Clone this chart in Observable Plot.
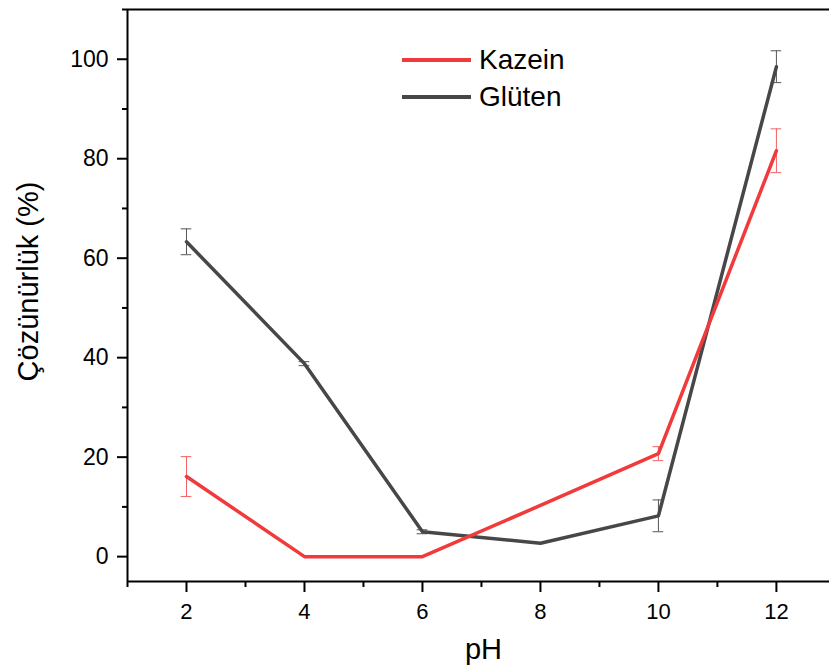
<!DOCTYPE html>
<html>
<head>
<meta charset="utf-8">
<script src="https://cdn.jsdelivr.net/npm/d3@7"></script>
<script src="https://cdn.jsdelivr.net/npm/@observablehq/plot@0.6"></script>
<style>
  html, body { margin: 0; padding: 0; background: #fff; overflow: hidden; }
  #wrap { position: relative; width: 829px; height: 672px; font-family: "Liberation Sans", Arial, sans-serif; }
  .leg { position: absolute; display: flex; align-items: center; font-size: 28px; color: #000; }
  .leg span.sw { display: inline-block; width: 69px; height: 4px; margin-right: 8px; }
</style>
</head>
<body>
<div id="wrap"></div>
<script>
const pH = [2, 4, 6, 8, 10, 12];
const kazein = [16.1, 0, 0, 10.3, 20.7, 81.6];
const kazeinErr = [4.0, 0, 0, 0, 1.4, 4.4];
const gluten = [63.3, 38.8, 5.0, 2.7, 8.2, 98.5];
const glutenErr = [2.6, 0.4, 0.4, 0, 3.2, 3.2];
const xTicks = [2, 4, 6, 8, 10, 12];
const xMinor = [1, 3, 5, 7, 9, 11];
const yTicks = [0, 20, 40, 60, 80, 100];
const yMinor = [10, 30, 50, 70, 90, 110];
const seriesNames = ["Kazein", "Glüten"];
const colors = {"Kazein": "#f03a3c", "Glüten": "#474747"};
const errColors = {"Kazein": "#f26063", "Glüten": "#555555"};

const rows = [];
pH.forEach((p, i) => {
  rows.push({series: "Kazein", pH: p, v: kazein[i], e: kazeinErr[i]});
  rows.push({series: "Glüten", pH: p, v: gluten[i], e: glutenErr[i]});
});
const errRows = rows.filter(d => d.e > 0);
const capHalf = 0.09;

const font = "Liberation Sans, Arial, sans-serif";

const chart = Plot.plot({
  width: 829,
  height: 672,
  marginLeft: 127,
  marginRight: 0,
  marginTop: 9,
  marginBottom: 91,
  style: {fontFamily: font, background: "#fff", color: "#000"},
  x: {domain: [1, 12.9]},
  y: {domain: [-5, 110]},
  marks: [
    // frame: left, bottom, top
    Plot.ruleX([1], {stroke: "#000", strokeWidth: 2}),
    Plot.ruleY([-5], {stroke: "#000", strokeWidth: 2}),
    Plot.ruleY([110], {stroke: "#000", strokeWidth: 2}),
    Plot.axisY({ticks: yTicks, tickSize: 10, strokeWidth: 2, tickFormat: () => "", label: null}),
    Plot.axisY({ticks: yMinor, tickSize: 5, strokeWidth: 2, tickFormat: () => "", label: null}),
    Plot.axisX({ticks: xTicks, tickSize: 11, strokeWidth: 2, tickFormat: () => "", label: null}),
    Plot.axisX({ticks: xMinor, tickSize: 6, strokeWidth: 2, tickFormat: () => "", label: null}),
    // tick labels
    Plot.text(yTicks, {y: d => d, frameAnchor: "left", dx: -19, textAnchor: "end", lineAnchor: "middle", fontSize: 23, text: d => String(d), fill: "#000"}),
    Plot.text(xTicks, {x: d => d, frameAnchor: "bottom", dy: 30, textAnchor: "middle", lineAnchor: "middle", fontSize: 22, text: d => String(d), fill: "#000"}),
    // error bars
    Plot.ruleX(errRows, {x: "pH", y1: d => d.v - d.e, y2: d => d.v + d.e, stroke: d => errColors[d.series], strokeWidth: 1}),
    Plot.ruleY(errRows, {y: d => d.v + d.e, x1: d => d.pH - capHalf, x2: d => d.pH + capHalf, stroke: d => errColors[d.series], strokeWidth: 1}),
    Plot.ruleY(errRows, {y: d => d.v - d.e, x1: d => d.pH - capHalf, x2: d => d.pH + capHalf, stroke: d => errColors[d.series], strokeWidth: 1}),
    // lines (gluten first, kazein on top)
    Plot.line(rows.filter(d => d.series === "Glüten"), {x: "pH", y: "v", stroke: colors["Glüten"], strokeWidth: 3.5}),
    Plot.line(rows.filter(d => d.series === "Kazein"), {x: "pH", y: "v", stroke: colors["Kazein"], strokeWidth: 3.5}),
    // axis titles
    Plot.text(["pH"], {frameAnchor: "bottom", dy: 68, dx: 5, fontSize: 29, textAnchor: "middle", lineAnchor: "middle", text: d => d, fill: "#000"}),
    Plot.text(["Çözünürlük (%)"], {frameAnchor: "left", dx: -99, dy: -14, rotate: -90, fontSize: 29, textAnchor: "middle", lineAnchor: "middle", text: d => d, fill: "#000"})
  ]
});

const wrap = document.getElementById("wrap");
wrap.appendChild(chart);
chart.style.position = "absolute";
chart.style.left = "0";
chart.style.top = "0";

const legTops = [60, 97];
seriesNames.forEach((name, i) => {
  const div = document.createElement("div");
  div.className = "leg";
  div.style.left = "402px";
  div.style.top = (legTops[i] - 17) + "px";
  div.style.height = "34px";
  const sw = document.createElement("span");
  sw.className = "sw";
  sw.style.background = colors[name];
  div.appendChild(sw);
  const t = document.createElement("span");
  t.textContent = name;
  div.appendChild(t);
  wrap.appendChild(div);
});
</script>
</body>
</html>
